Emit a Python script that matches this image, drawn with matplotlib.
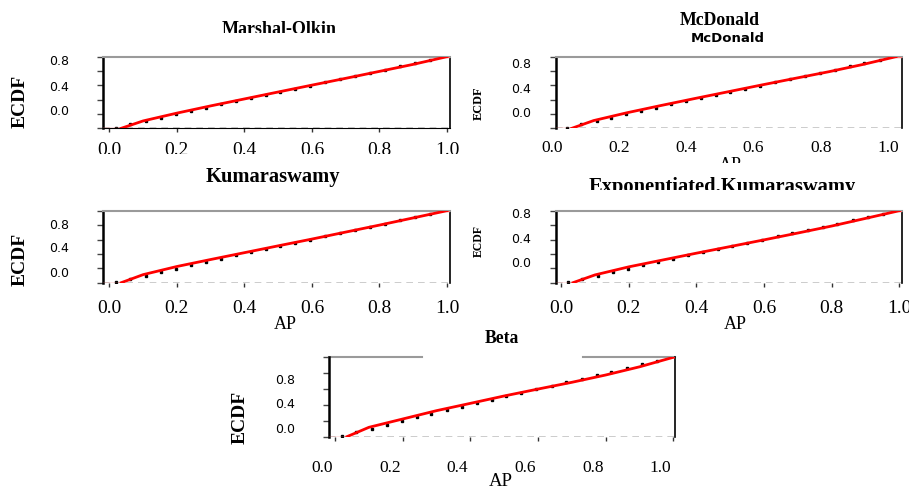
"""ECDF vs fitted CDF for five candidate distributions of AP."""
import matplotlib

matplotlib.use("Agg")
import matplotlib.pyplot as plt  # noqa: E402
from matplotlib.transforms import Bbox  # noqa: E402

W, H = 909, 488
SERIF = "Liberation Serif"
SANS = "DejaVu Sans"

AP = [0.021, 0.062, 0.109, 0.153, 0.197, 0.241, 0.285, 0.331, 0.374, 0.419, 0.463,
      0.506, 0.551, 0.595, 0.640, 0.684, 0.729, 0.773, 0.817, 0.862, 0.906, 0.951]
ECDF = [0.010, 0.055, 0.100, 0.148, 0.196, 0.242, 0.287, 0.334, 0.380, 0.423, 0.468,
        0.510, 0.550, 0.597, 0.644, 0.688, 0.732, 0.777, 0.820, 0.865, 0.910, 0.953]

# fitted CDFs
FIT_X = [0.035, 0.1, 0.2, 0.3, 0.4, 0.5, 0.6, 0.7, 0.8, 0.9, 1.0]
FIT_MO = [0.0, 0.103, 0.212, 0.313, 0.410, 0.507, 0.603, 0.698, 0.795, 0.893, 1.0]
FIT_MCD = [0.0, 0.108, 0.218, 0.318, 0.415, 0.510, 0.605, 0.698, 0.790, 0.890, 1.0]
FIT_KW = [0.0, 0.112, 0.225, 0.322, 0.417, 0.512, 0.606, 0.703, 0.800, 0.900, 1.0]
FIT_EKW = [0.0, 0.108, 0.220, 0.315, 0.410, 0.502, 0.595, 0.690, 0.787, 0.893, 1.0]
FIT_BETA = [0.0, 0.118, 0.223, 0.328, 0.420, 0.513, 0.600, 0.685, 0.777, 0.880, 1.0]

XTICKS = [0.0, 0.2, 0.4, 0.6, 0.8, 1.0]
XTICK_LABELS = ["0.0", "0.2", "0.4", "0.6", "0.8", "1.0"]
YTICKS = [0.0, 0.2, 0.4, 0.6, 0.8, 1.0]
YTICK_LABELS = ["0.0", "0.4", "0.8"]

# layout of each panel, in image pixels
PANELS = [
    dict(name="Marshal-Olkin", fit=FIT_MO, box=(103.3, 56.7, 450, 128.3), xlim=(-0.018, 1.009),
         title=(279, 33.6, 13, 33), sub=None, ylab=(20, 101.7, 14),
         ytl=([115, 90.7, 65], 69), xtl=(154.8, 0, 14, 154), xlab=None,
         bottom=True, xt=True, gap=None),
    dict(name="McDonald", fit=FIT_MCD, box=(555.7, 56.7, 901.7, 128.3), xlim=(-0.013, 1.017),
         title=(720, 25.1, 12.8, 25), sub=(728, 41.7, 9.5), ylab=(478.7, 103.3, 8.8),
         ytl=([117.3, 93.3, 68.3], 530.7), xtl=(151.7, -8, 12.5, None), xlab=(730, 170, 13, 163),
         bottom=False, xt=False, gap=None),
    dict(name="Kumaraswamy", fit=FIT_KW, box=(103.3, 210.7, 450, 282.7), xlim=(-0.018, 1.009),
         title=(272.5, 182.3, 14.8, None), sub=None, ylab=(20, 259, 14),
         ytl=([276.7, 252.3, 229], 69), xtl=(313.3, 0, 14, None), xlab=(285, 329, 13, None),
         bottom=False, xt=True, gap=None),
    dict(name="Exponentiated.Kumaraswamy", fit=FIT_EKW, box=(555.7, 210.7, 901.7, 282.7),
         xlim=(-0.016, 1.007), title=(722, 191.9, 14.8, 190), sub=None, ylab=(478.7, 240.8, 8.5),
         ytl=([266.7, 243.3, 217.7], 530.7), xtl=(313.3, 0, 14, None), xlab=(735, 329, 13, None),
         bottom=False, xt=True, gap=None),
    dict(name="Beta", fit=FIT_BETA, box=(329.3, 357.3, 675, 436.7), xlim=(-0.017, 1.005),
         title=(502, 342.7, 12.7, None), sub=None, ylab=(240, 417.5, 14),
         ytl=([433.3, 408.3, 384], 295), xtl=(471.7, -13, 12.5, None), xlab=(501, 486.5, 13.5, None),
         bottom=False, xt=True, gap=(0.267, 0.734)),
]


def fig_text(fig, x, y, s, clip=None, **kw):
    t = fig.text(x / W, 1 - y / H, s, **kw)
    if clip is not None:
        t.set_clip_box(Bbox.from_extents(0, H - clip, W, H))
        t.set_clip_on(True)
    return t


def draw_panel(fig, p):
    left, top, right, bottom = p["box"]
    aw, ah = right - left, bottom - top
    ax = fig.add_axes([left / W, 1 - bottom / H, aw / W, ah / H])
    ax.set_xlim(*p["xlim"])
    ax.set_ylim(0, 1)

    dash = dict(color="#c4c4c4", ls=(0, (4, 3)), lw=1.2, zorder=1)
    ax.axhline(0, **dash)
    if p["gap"] is None:
        ax.axhline(1, **dash)
    else:
        ax.axhline(1, xmax=p["gap"][0], **dash)
        ax.axhline(1, xmin=p["gap"][1], **dash)

    ax.plot(AP, ECDF, "s", color="black", ms=2.0, zorder=2)
    ax.plot([p["xlim"][0], FIT_X[0]], [0, 0], color="#ff7a7a", lw=1, zorder=3)
    ax.plot([FIT_X[-1], p["xlim"][1]], [1, 1], color="#ff7a7a", lw=1, zorder=3)
    ax.plot(FIT_X, p["fit"], color="red", lw=2, zorder=4)

    for side in ("left", "right", "top", "bottom"):
        ax.spines[side].set_color("black")
    ax.spines["left"].set_linewidth(1.8)
    ax.spines["right"].set_linewidth(1.2)
    ax.spines["top"].set_color("#9a9a9a")
    ax.spines["top"].set_linewidth(1.5)
    if not p["bottom"]:
        ax.spines["bottom"].set_visible(False)
    if p["gap"] is not None:
        ax.spines["top"].set_visible(False)
        for a, b in ((0, p["gap"][0]), (p["gap"][1], 1)):
            ax.plot([a, b], [1, 1], transform=ax.transAxes, color="#9a9a9a", lw=1.5, clip_on=False)

    ax.set_xticks(XTICKS, [""] * len(XTICKS))
    ax.set_yticks(YTICKS, [""] * len(YTICKS))
    ax.tick_params(axis="y", length=4, width=1, color="#444444")
    ax.tick_params(axis="x", length=3 if p["xt"] else 0, width=1, color="#333333")

    # y tick labels, placed where the source had them
    ys, xr = p["ytl"]
    for lab, yb in zip(YTICK_LABELS, ys):
        ax.text((xr - left) / aw, (bottom - yb) / ah, lab, transform=ax.transAxes,
                ha="right", va="baseline", fontsize=9, family=SANS)

    # x tick labels
    yb, dx, size, clip = p["xtl"]
    span = p["xlim"][1] - p["xlim"][0]
    for v, lab in zip(XTICKS, XTICK_LABELS):
        t = ax.text(v + dx / aw * span, (bottom - yb) / ah, lab, transform=ax.get_xaxis_transform(),
                    ha="center", va="baseline", fontsize=size, family=SERIF)
        if clip is not None:
            t.set_clip_box(Bbox.from_extents(0, H - clip, W, H))
            t.set_clip_on(True)
        else:
            t.set_clip_on(False)

    tx, ty, ts, tclip = p["title"]
    fig_text(fig, tx, ty, p["name"], clip=tclip, ha="center", va="baseline",
             fontsize=ts, fontweight="bold", family=SERIF)
    if p["sub"] is not None:
        sx, sy, ss = p["sub"]
        fig_text(fig, sx, sy, p["name"], ha="center", va="baseline",
                 fontsize=ss, fontweight="bold", family=SANS)

    lx, ly, ls = p["ylab"]
    fig_text(fig, lx, ly, "ECDF", ha="center", va="center", rotation=90,
             fontsize=ls, fontweight="bold", family=SERIF)

    if p["xlab"] is not None:
        xx, xy, xs, xclip = p["xlab"]
        fig_text(fig, xx, xy, "AP", clip=xclip, ha="center", va="baseline",
                 fontsize=xs, family=SERIF)
    return ax


fig = plt.figure(figsize=(W / 100, H / 100), dpi=100)
fig.patch.set_facecolor("white")
for p in PANELS:
    draw_panel(fig, p)

fig.savefig("out.png", dpi=100, facecolor="white")
